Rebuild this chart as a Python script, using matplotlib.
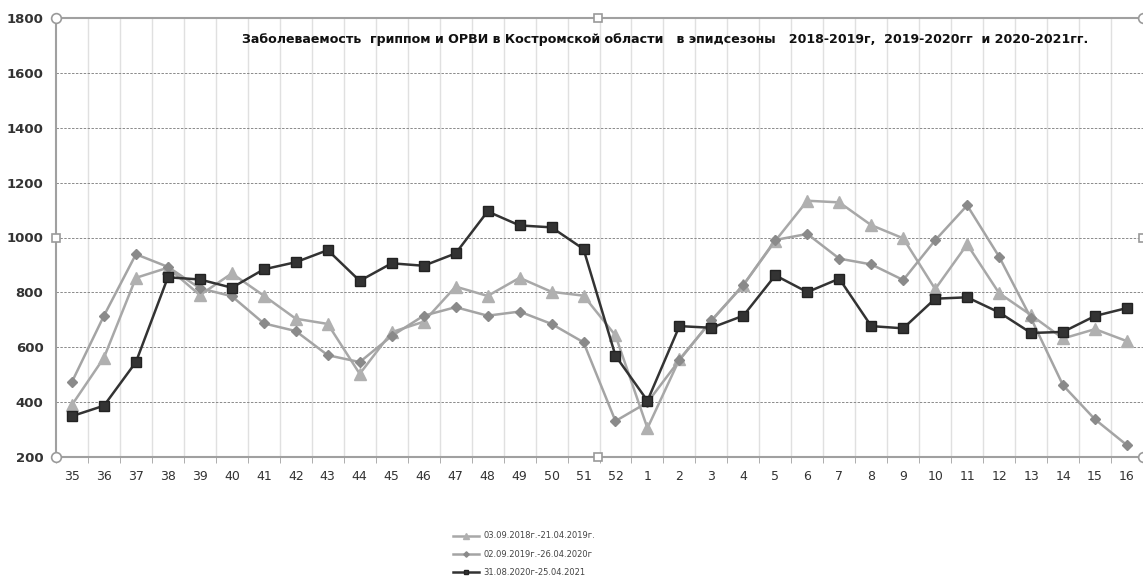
import numpy as np
import matplotlib
matplotlib.use("Agg")
import matplotlib.pyplot as plt

# недели эпидсезона
weeks = [str(w) for w in range(35, 53)] + [str(w) for w in range(1, 17)]

# 2018-2019
s2018 = [390, 562, 853, 890, 790, 869, 788, 704, 685, 503, 655, 693, 821, 787, 853, 802, 788, 643,
         305, 556, 696, 827, 988, 1134, 1128, 1045, 997, 812, 975, 797, 717, 632, 666, 622]
# 2019-2020
s2019 = [474, 715, 939, 893, 815, 786, 687, 659, 571, 546, 641, 715, 746, 715, 730, 685, 618, 331,
         399, 553, 698, 827, 991, 1013, 923, 902, 845, 990, 1117, 930, 705, 461, 337, 243]
# 2020-2021
s2020 = [349, 387, 546, 855, 847, 817, 884, 910, 954, 842, 906, 897, 942, 1095, 1044, 1037, 958, 569,
         405, 677, 671, 715, 862, 801, 850, 677, 669, 777, 782, 727, 652, 656, 714, 743]

labels = ["03.09.2018г.-21.04.2019г.", "02.09.2019г.-26.04.2020г", "31.08.2020г-25.04.2021"]
title = ("Заболеваемость  гриппом и ОРВИ в Костромской области   в эпидсезоны   "
         "2018-2019г,  2019-2020гг  и 2020-2021гг.")

W, H = 1143, 578
fig = plt.figure(figsize=(W / 100, H / 100), dpi=100)
ax = fig.add_axes([56 / W, (H - 457) / H, (W - 56) / W, (457 - 18) / H])

x = np.arange(len(weeks))
ax.plot(x, s2018, color="#a8a8a8", lw=1.8, marker="^", ms=8.5, mfc="#b0b0b0", mec="#b0b0b0",
        label=labels[0], zorder=3)
ax.plot(x, s2019, color="#a4a4a4", lw=1.8, marker="D", ms=5.5, mfc="#8a8a8a", mec="#8a8a8a",
        label=labels[1], zorder=3)
ax.plot(x, s2020, color="#333333", lw=1.8, marker="s", ms=7, mfc="#333333", mec="#222222",
        label=labels[2], zorder=4)

ax.set_xlim(-0.5, len(weeks) - 0.5)
ax.set_ylim(200, 1800)
ax.set_yticks(range(200, 1801, 200))
ax.set_xticks(x)
ax.set_xticklabels(weeks)
ax.set_xticks(np.arange(len(weeks) + 1) - 0.5, minor=True)

# сетка
for yv in range(400, 1800, 200):
    ax.axhline(yv, color="#8a8a8a", lw=0.7, ls=(0, (2.5, 1.5)), zorder=1)
for xv in np.arange(1, len(weeks)) - 0.5:
    ax.axvline(xv, color="#e0e0e0", lw=1.0, zorder=0)

ax.tick_params(axis="x", which="major", length=0, pad=9, labelsize=9, labelcolor="#333333")
ax.tick_params(axis="x", which="minor", length=4, color="#a0a0a0", direction="out")
ax.tick_params(axis="y", length=0, pad=9, labelsize=9.5, labelcolor="#333333")
for lab in ax.get_yticklabels():
    lab.set_fontweight("bold")

for side in ["left", "bottom", "top"]:
    ax.spines[side].set_color("#a0a0a0")
    ax.spines[side].set_linewidth(1.5)
ax.spines["right"].set_visible(False)

# маркеры выделения области построения
handle_kw = dict(transform=ax.transAxes, clip_on=False, mfc="white", mec="#9a9a9a", mew=1.2, zorder=6)
ax.plot([0, 1, 0, 1], [1, 1, 0, 0], "o", ms=7, ls="none", **handle_kw)
ax.plot([0.499, 0.499, 0, 1], [1, 0, 0.5, 0.5], "s", ms=6, ls="none", **handle_kw)

ax.text(0.560, 0.965, title, transform=ax.transAxes, ha="center", va="top",
        fontsize=9.1, fontweight="bold", color="#111111", family="DejaVu Sans Condensed")

fig.legend(loc="upper left", bbox_to_anchor=(445 / W, (H - 524) / H), frameon=False,
           fontsize=6, handlelength=3.2, labelspacing=1.1, handletextpad=0.5,
           markerscale=0.5, labelcolor="#444444")

fig.savefig("out.png", dpi=100)
